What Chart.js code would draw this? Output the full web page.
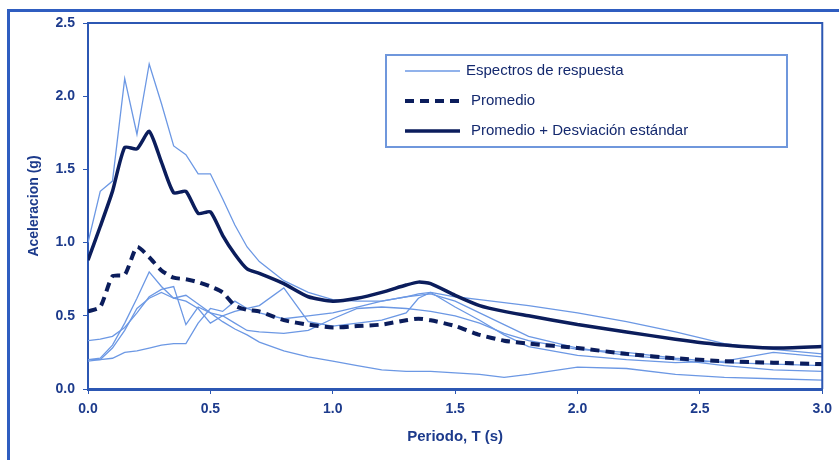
<!DOCTYPE html>
<html>
<head>
<meta charset="utf-8">
<script src="https://cdn.jsdelivr.net/npm/chart.js@4.4.0/dist/chart.umd.min.js"></script>
<style>
	html, body { margin: 0; padding: 0; background: #fff; }
</style>
</head>
<body>
<canvas id="chartContainer" width="839" height="460"></canvas>
<script>
// periodos T (s)
const periodos = [0, 0.05, 0.1, 0.15, 0.2, 0.25, 0.3, 0.35, 0.4, 0.45, 0.5, 0.55, 0.6, 0.65, 0.7, 0.8, 0.9, 1.0, 1.1, 1.2, 1.3, 1.35, 1.4, 1.5, 1.6, 1.7, 1.8, 2.0, 2.2, 2.4, 2.6, 2.8, 3.0];

// espectros de respuesta (g)
const espectro1 = [1.00, 1.35, 1.42, 2.12, 1.74, 2.22, 1.95, 1.66, 1.60, 1.47, 1.47, 1.30, 1.12, 0.97, 0.87, 0.74, 0.66, 0.61, 0.60, 0.60, 0.63, 0.65, 0.66, 0.63, 0.61, 0.59, 0.57, 0.52, 0.46, 0.39, 0.31, 0.27, 0.24];
const espectro2 = [0.33, 0.34, 0.36, 0.42, 0.52, 0.63, 0.68, 0.70, 0.44, 0.56, 0.52, 0.46, 0.41, 0.37, 0.32, 0.26, 0.22, 0.19, 0.16, 0.13, 0.12, 0.12, 0.12, 0.11, 0.10, 0.08, 0.10, 0.15, 0.14, 0.10, 0.08, 0.07, 0.06];
const espectro3 = [0.20, 0.21, 0.30, 0.45, 0.62, 0.80, 0.70, 0.62, 0.64, 0.58, 0.52, 0.50, 0.53, 0.55, 0.57, 0.69, 0.46, 0.43, 0.45, 0.47, 0.52, 0.62, 0.66, 0.56, 0.47, 0.37, 0.29, 0.23, 0.20, 0.18, 0.19, 0.25, 0.22];
const espectro4 = [0.19, 0.20, 0.21, 0.25, 0.26, 0.28, 0.30, 0.31, 0.31, 0.45, 0.55, 0.53, 0.60, 0.55, 0.52, 0.48, 0.50, 0.52, 0.56, 0.60, 0.63, 0.64, 0.65, 0.60, 0.52, 0.44, 0.36, 0.28, 0.23, 0.20, 0.16, 0.13, 0.12];
const espectro5 = [0.20, 0.20, 0.28, 0.40, 0.55, 0.62, 0.66, 0.62, 0.60, 0.55, 0.45, 0.50, 0.45, 0.40, 0.39, 0.38, 0.40, 0.48, 0.55, 0.56, 0.55, 0.54, 0.53, 0.50, 0.45, 0.38, 0.33, 0.27, 0.25, 0.21, 0.18, 0.17, 0.16];

const promedio = [0.53, 0.56, 0.77, 0.78, 0.97, 0.90, 0.81, 0.76, 0.75, 0.73, 0.70, 0.66, 0.57, 0.54, 0.53, 0.47, 0.44, 0.42, 0.43, 0.44, 0.47, 0.48, 0.47, 0.43, 0.37, 0.33, 0.31, 0.28, 0.24, 0.21, 0.19, 0.18, 0.17];
const promedioDesv = [0.88, 1.11, 1.35, 1.65, 1.64, 1.76, 1.55, 1.34, 1.35, 1.20, 1.21, 1.05, 0.92, 0.82, 0.79, 0.72, 0.63, 0.60, 0.62, 0.66, 0.71, 0.73, 0.72, 0.64, 0.57, 0.53, 0.50, 0.44, 0.39, 0.34, 0.30, 0.28, 0.29];

const yTicks = [0, 0.5, 1.0, 1.5, 2.0, 2.5];
const xTicks = [0, 0.5, 1.0, 1.5, 2.0, 2.5, 3.0];

const azulClaro = '#6c98e4';
const azulOscuro = '#0b1d5c';
const azulEje = '#2c57b3';
const azulTexto = '#1d3b8c';

function puntos(valores) {
	return periodos.map((t, i) => ({ x: t, y: valores[i] }));
}

let datasets = [];
datasets.push({ label: 'Promedio + Desviación estándar', data: puntos(promedioDesv), borderColor: azulOscuro, borderWidth: 3.5, tension: 0.2, order: 0, leyenda: 3 });
datasets.push({ label: 'Promedio', data: puntos(promedio), borderColor: azulOscuro, borderWidth: 4, borderDash: [9, 6], tension: 0.2, order: 0, leyenda: 2 });
let espectros = [espectro1, espectro2, espectro3, espectro4, espectro5];
espectros.forEach((e, i) => {
	datasets.push({ label: 'Espectros de respuesta', data: puntos(e), borderColor: azulClaro, borderWidth: 1.3, tension: 0, order: 1, leyenda: i == 0 ? 1 : 0 });
});

// marco exterior, borde del area y leyenda
const marco = {
	id: 'marco',
	beforeDraw(chart) {
		const c = chart.ctx;
		c.save();
		c.fillStyle = '#fff';
		c.fillRect(0, 0, chart.width, chart.height);
		c.fillStyle = '#2f5dc0';
		c.fillRect(7, 9, 3, chart.height);
		c.fillRect(7, 9, chart.width, 3);
		c.restore();
	},
	afterDatasetsDraw(chart) {
		const c = chart.ctx;
		const a = chart.chartArea;
		c.save();
		c.strokeStyle = azulEje;
		c.lineWidth = 2;
		c.beginPath();
		c.moveTo(a.left, a.top);
		c.lineTo(a.right, a.top);
		c.lineTo(a.right, a.bottom);
		c.stroke();

		// leyenda
		const bx = 386, by = 55, bw = 401, bh = 92;
		c.fillStyle = '#fff';
		c.fillRect(bx, by, bw, bh);
		c.strokeStyle = '#6f97dc';
		c.lineWidth = 2;
		c.strokeRect(bx, by, bw, bh);
		let items = chart.data.datasets.filter(d => d.leyenda > 0).sort((p, q) => p.leyenda - q.leyenda);
		c.font = '15px "Liberation Sans", Arial, sans-serif';
		c.textBaseline = 'middle';
		items.forEach((d, i) => {
			const y = 71 + i * 30;
			c.strokeStyle = d.borderColor;
			c.lineWidth = d.borderWidth;
			c.setLineDash(d.borderDash ? d.borderDash : []);
			c.beginPath();
			c.moveTo(405, y);
			c.lineTo(460, y);
			c.stroke();
			c.setLineDash([]);
			c.fillStyle = '#14296e';
			c.fillText(d.label, i == 0 ? 466 : 471, y);
		});
		c.restore();
	}
};

new Chart(document.getElementById('chartContainer'), {
	type: 'line',
	data: { datasets: datasets },
	options: {
		responsive: false,
		animation: false,
		layout: { padding: { left: 12, right: 13, top: 23, bottom: 0 } },
		elements: { point: { radius: 0 } },
		plugins: {
			legend: { display: false },
			tooltip: { enabled: false }
		},
		scales: {
			x: {
				type: 'linear',
				min: 0,
				max: 3,
				afterFit: (s) => { s.height = 71; },
				afterBuildTicks: (s) => { s.ticks = xTicks.map(v => ({ value: v })); },
				border: { display: true, color: azulEje, width: 3 },
				grid: { drawOnChartArea: false, drawTicks: true, tickLength: 5, color: azulEje },
				ticks: {
					padding: 7,
					color: azulTexto,
					font: { family: '"Liberation Sans", Arial, sans-serif', size: 14, weight: 'bold' },
					callback: (v) => v.toFixed(1)
				},
				title: {
					display: true,
					text: 'Periodo, T (s)',
					color: azulTexto,
					padding: { top: 4, bottom: 14 },
					font: { family: '"Liberation Sans", Arial, sans-serif', size: 15, weight: 'bold' }
				}
			},
			y: {
				min: 0,
				max: 2.5,
				afterFit: (s) => { s.width = 76; },
				afterBuildTicks: (s) => { s.ticks = yTicks.map(v => ({ value: v })); },
				border: { display: true, color: azulEje, width: 2 },
				grid: { drawOnChartArea: false, drawTicks: true, tickLength: 5, color: azulEje },
				ticks: {
					padding: 8,
					color: azulTexto,
					font: { family: '"Liberation Sans", Arial, sans-serif', size: 14, weight: 'bold' },
					callback: (v) => v.toFixed(1)
				},
				title: {
					display: true,
					text: 'Aceleracion (g)',
					color: azulTexto,
					padding: { top: 14, bottom: 0 },
					font: { family: '"Liberation Sans", Arial, sans-serif', size: 14, weight: 'bold' }
				}
			}
		}
	},
	plugins: [marco]
});
</script>
</body>
</html>
